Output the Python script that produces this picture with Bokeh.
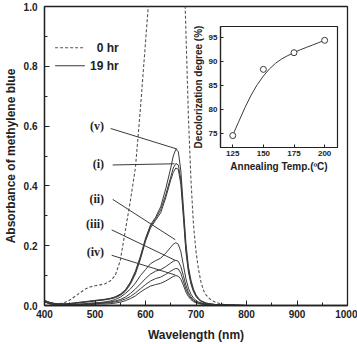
from bokeh.plotting import figure
from bokeh.models import Range1d, FixedTicker, PrintfTickFormatter
from bokeh.core.properties import value
from bokeh.embed import file_html
from bokeh.resources import INLINE

# ---------------- data ----------------
wl0 = [400, 410, 420, 430, 440, 450, 460, 470, 480, 490, 500, 510, 520, 530, 540, 550, 560, 570, 580,
       590, 600, 610, 620, 640, 665, 670, 675, 680, 685, 690, 695, 700, 705, 710, 715, 720, 730, 740,
       750, 760, 800]
abs_0hr = [0.016, 0.010, 0.006, 0.006, 0.010, 0.018, 0.030, 0.042, 0.054, 0.062, 0.066, 0.069, 0.073,
           0.082, 0.100, 0.150, 0.250, 0.350, 0.460, 0.660, 0.880, 1.100, 1.350, 1.700, 1.950, 1.500,
           1.200, 0.920, 0.630, 0.420, 0.270, 0.180, 0.120, 0.077, 0.050, 0.035, 0.018, 0.010, 0.005,
           0.002, 0.000]

wl = [400, 410, 420, 430, 440, 450, 460, 470, 480, 490, 500, 510, 520, 530, 540, 550, 560, 570, 580,
      590, 600, 610, 620, 630, 640, 650, 655, 660, 665, 670, 675, 680, 685, 690, 695, 700, 705, 710,
      720, 730, 740, 750, 800]
abs_v = [0.017, 0.011, 0.007, 0.006, 0.006, 0.007, 0.009, 0.011, 0.013, 0.015, 0.017, 0.019, 0.021, 0.024,
         0.029, 0.038, 0.052, 0.078, 0.115, 0.165, 0.225, 0.270, 0.295, 0.330, 0.390, 0.460, 0.500, 0.522,
         0.515, 0.450, 0.330, 0.210, 0.130, 0.085, 0.055, 0.036, 0.024, 0.016, 0.008, 0.005, 0.003, 0.002,
         0.000]
abs_i = [0.016, 0.010, 0.006, 0.005, 0.005, 0.006, 0.008, 0.010, 0.012, 0.014, 0.016, 0.018, 0.020, 0.023,
         0.028, 0.036, 0.050, 0.075, 0.110, 0.160, 0.220, 0.265, 0.290, 0.320, 0.370, 0.430, 0.460, 0.475,
         0.470, 0.420, 0.310, 0.190, 0.120, 0.078, 0.050, 0.033, 0.022, 0.015, 0.008, 0.005, 0.003, 0.002,
         0.000]
abs_i_b = [0.015, 0.009, 0.006, 0.005, 0.005, 0.006, 0.007, 0.009, 0.011, 0.013, 0.015, 0.017, 0.019, 0.022,
           0.026, 0.034, 0.047, 0.071, 0.105, 0.155, 0.215, 0.260, 0.285, 0.310, 0.360, 0.420, 0.445, 0.460,
           0.455, 0.405, 0.295, 0.180, 0.112, 0.072, 0.046, 0.030, 0.020, 0.014, 0.007, 0.004, 0.003, 0.002,
           0.000]
abs_ii = [0.014, 0.008, 0.004, 0.003, 0.003, 0.003, 0.004, 0.005, 0.006, 0.008, 0.009, 0.010, 0.012, 0.015,
          0.020, 0.028, 0.040, 0.055, 0.075, 0.100, 0.120, 0.140, 0.150, 0.158, 0.175, 0.195, 0.205, 0.210,
          0.205, 0.180, 0.135, 0.090, 0.058, 0.038, 0.025, 0.017, 0.012, 0.009, 0.005, 0.003, 0.002, 0.001,
          0.000]
abs_iii = [0.013, 0.007, 0.004, 0.003, 0.003, 0.003, 0.003, 0.004, 0.005, 0.006, 0.007, 0.008, 0.010, 0.012,
           0.015, 0.020, 0.028, 0.040, 0.055, 0.072, 0.090, 0.105, 0.115, 0.120, 0.130, 0.142, 0.148, 0.151,
           0.148, 0.130, 0.100, 0.068, 0.044, 0.029, 0.019, 0.013, 0.009, 0.007, 0.004, 0.002, 0.001, 0.001,
           0.000]
abs_iii_b = [0.012, 0.006, 0.003, 0.002, 0.002, 0.002, 0.002, 0.003, 0.004, 0.005, 0.006, 0.007, 0.008, 0.010,
             0.012, 0.016, 0.022, 0.030, 0.042, 0.056, 0.070, 0.082, 0.090, 0.095, 0.104, 0.115, 0.120, 0.124,
             0.122, 0.108, 0.082, 0.055, 0.036, 0.024, 0.016, 0.011, 0.008, 0.006, 0.003, 0.002, 0.001, 0.001,
             0.000]
abs_iv = [0.012, 0.006, 0.003, 0.002, 0.002, 0.002, 0.002, 0.002, 0.003, 0.003, 0.004, 0.005, 0.005, 0.006,
          0.008, 0.011, 0.016, 0.023, 0.032, 0.045, 0.056, 0.065, 0.070, 0.074, 0.082, 0.092, 0.097, 0.100,
          0.098, 0.088, 0.068, 0.045, 0.030, 0.020, 0.013, 0.009, 0.007, 0.005, 0.003, 0.002, 0.001, 0.001,
          0.000]

curve_labels = ["(v)", "(i)", "(ii)", "(iii)", "(iv)"]
peak_wl = [663, 657, 659, 659, 659]
peak_abs = [0.523, 0.474, 0.220, 0.151, 0.102]

x_ticks = [400, 500, 600, 700, 800, 900, 1000]
y_ticks = [0.0, 0.2, 0.4, 0.6, 0.8, 1.0]

# inset data
temps = [125, 150, 175, 200]
degree = [74.5, 88.4, 91.9, 94.5]
fit_t = [125, 130, 135, 140, 145, 150, 155, 160, 165, 170, 175, 180, 185, 190, 195, 200]
fit_d = [74.6, 77.5, 80.4, 83.0, 85.2, 87.0, 88.5, 89.7, 90.6, 91.3, 91.9, 92.5, 93.0, 93.5, 94.0, 94.5]
inset_x_ticks = [125, 150, 175, 200]
inset_y_ticks = [75, 80, 85, 90, 95]

# ---------------- styles ----------------
FONT = "Liberation Sans"
SERIF = "Liberation Serif"
INK = "#222222"
LINE = "#3a3a3a"

p = figure(width=357, height=344, x_range=Range1d(400, 1000), y_range=Range1d(0, 1.0),
           output_backend="svg", toolbar_location=None,
           min_border_left=41, min_border_right=10, min_border_top=6, min_border_bottom=34,
           styles={"position": "absolute", "left": "0px", "top": "0px"})
p.grid.visible = False
p.outline_line_color = INK
p.outline_line_width = 1.3

for ax in (p.xaxis[0], p.yaxis[0]):
    ax.axis_line_color = INK
    ax.axis_line_width = 1.3
    ax.major_tick_line_color = INK
    ax.minor_tick_line_color = INK
    ax.major_tick_in = 5
    ax.major_tick_out = 0
    ax.minor_tick_in = 3
    ax.minor_tick_out = 0
    ax.major_label_text_font = FONT
    ax.major_label_text_font_style = "bold"
    ax.major_label_text_font_size = "10px"
    ax.major_label_text_color = INK
    ax.axis_label_text_font = FONT
    ax.axis_label_text_font_style = "bold"
    ax.axis_label_text_font_size = "12px"
    ax.axis_label_text_color = INK

p.xaxis.ticker = FixedTicker(ticks=x_ticks, minor_ticks=[x + 50 for x in x_ticks[:-1]])
p.yaxis.ticker = FixedTicker(ticks=y_ticks, minor_ticks=[y + 0.1 for y in y_ticks[:-1]])
p.yaxis.formatter = PrintfTickFormatter(format="%.1f")
p.xaxis.axis_label = "Wavelength (nm)"
p.yaxis.axis_label = "Absorbance of methylene blue"
p.xaxis.major_label_standoff = 4
p.xaxis.axis_label_standoff = 7
p.yaxis.major_label_standoff = 7
p.yaxis.axis_label_standoff = 3

# 0 hr dashed
p.line(wl0, abs_0hr, line_color="#555555", line_width=1.1, line_dash="3 2")
# 19 hr solid curves
for ys in (abs_v, abs_i, abs_i_b, abs_ii, abs_iii, abs_iii_b, abs_iv):
    p.line(wl, ys, line_color=LINE, line_width=1.0)

# leaders and labels
lab_x = 518
lab_y = [0.599, 0.474, 0.355, 0.273, 0.178]
lead_x0 = [531, 535, 535, 533, 533]
lead_y0 = [0.592, 0.470, 0.355, 0.253, 0.168]
p.segment(x0=lead_x0, y0=lead_y0, x1=peak_wl, y1=peak_abs, line_color=LINE, line_width=1.0)
p.text(x=[lab_x] * 5, y=lab_y, text=curve_labels, text_font=value(SERIF), text_font_style="bold",
       text_font_size="12px", text_align="right", text_baseline="middle", text_color=INK)

# legend
p.segment(x0=[421], y0=[0.862], x1=[480], y1=[0.862], line_color="#555555", line_width=1.1, line_dash="3 2")
p.segment(x0=[421], y0=[0.802], x1=[480], y1=[0.802], line_color=LINE, line_width=1.1)
p.text(x=[547, 547], y=[0.862, 0.802], text=["0 hr", "19 hr"], text_font=value(FONT),
       text_font_style="bold", text_font_size="12px", text_align="right", text_baseline="middle",
       text_color=INK)

# ---------------- inset ----------------
ins = figure(width=151, height=155, x_range=Range1d(115, 210.5), y_range=Range1d(72, 97.4),
             output_backend="svg", toolbar_location=None,
             min_border_left=27, min_border_right=3, min_border_top=6, min_border_bottom=28,
             background_fill_alpha=0, border_fill_alpha=0,
             styles={"position": "absolute", "left": "189px", "top": "20px"})
ins.grid.visible = False
ins.outline_line_color = INK
ins.outline_line_width = 1.2
for ax in (ins.xaxis[0], ins.yaxis[0]):
    ax.axis_line_color = INK
    ax.axis_line_width = 1.2
    ax.major_tick_line_color = INK
    ax.major_tick_in = 3
    ax.major_tick_out = 0
    ax.minor_tick_line_color = None
    ax.major_label_text_font = FONT
    ax.major_label_text_font_style = "bold"
    ax.major_label_text_font_size = "8px"
    ax.major_label_text_color = INK
    ax.axis_label_text_font = FONT
    ax.axis_label_text_font_style = "bold"
    ax.axis_label_text_font_size = "10px"
    ax.axis_label_text_color = INK
    ax.major_label_standoff = 3
    ax.axis_label_standoff = 2
ins.xaxis.ticker = FixedTicker(ticks=inset_x_ticks)
ins.yaxis.ticker = FixedTicker(ticks=inset_y_ticks)
ins.xaxis.axis_label = "Annealing Temp.(ºC)"
ins.yaxis.axis_label = "Decolorization degree (%)"

ins.line(fit_t, fit_d, line_color=LINE, line_width=1.0)
ins.scatter(temps, degree, size=6, marker="circle", fill_color="white", line_color=LINE, line_width=1.0)

html = file_html([p, ins], INLINE)
open("out.html", "w").write(html)
